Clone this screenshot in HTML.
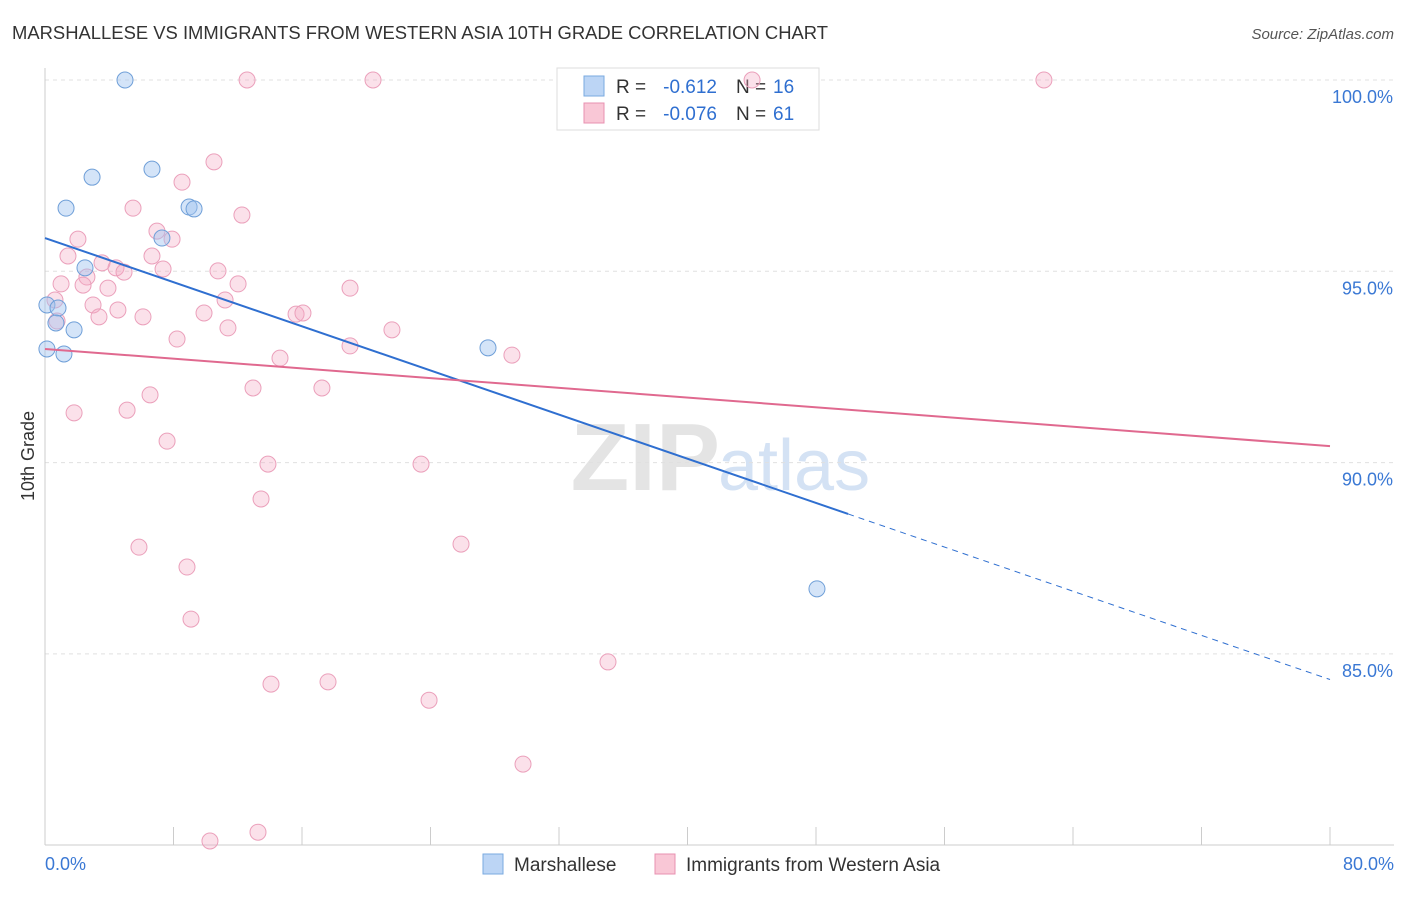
<!DOCTYPE html>
<html><head><meta charset="utf-8"><style>
body{margin:0;background:#fff;font-family:"Liberation Sans",sans-serif;}
svg text{font-family:"Liberation Sans",sans-serif;}
</style></head><body>
<svg id="chart" width="1406" height="892">
<text x="12" y="39" font-size="18" fill="#333" textLength="816" lengthAdjust="spacingAndGlyphs">MARSHALLESE VS IMMIGRANTS FROM WESTERN ASIA 10TH GRADE CORRELATION CHART</text>
<text x="1394" y="39" font-size="15" fill="#555" text-anchor="end" font-style="italic">Source: ZipAtlas.com</text>
<text x="720" y="490" font-size="96" fill="#e4e4e4" text-anchor="end" font-family="Liberation Serif" font-weight="bold">ZIP</text>
<text x="718" y="490" font-size="72" fill="#d4e2f4">atlas</text>
<g id="grid"></g>
<g id="axes"></g>
<g>
<rect x="557" y="68" width="262" height="62" fill="#fff" stroke="#ddd"/>
<rect x="584" y="76" width="20" height="20" fill="#bcd5f5" stroke="#7aaae0"/>
<rect x="584" y="103" width="20" height="20" fill="#f9c7d6" stroke="#e890b0"/>
<text x="616" y="93" font-size="19" fill="#333">R =</text>
<text x="717" y="93" font-size="19" fill="#2f6fd0" text-anchor="end">-0.612</text>
<text x="736" y="93" font-size="19" fill="#333">N =</text>
<text x="773" y="93" font-size="19" fill="#2f6fd0">16</text>
<text x="616" y="120" font-size="19" fill="#333">R =</text>
<text x="717" y="120" font-size="19" fill="#2f6fd0" text-anchor="end">-0.076</text>
<text x="736" y="120" font-size="19" fill="#333">N =</text>
<text x="773" y="120" font-size="19" fill="#2f6fd0">61</text>
</g>
<g id="marks"></g>
<text x="34" y="456" font-size="18" fill="#333" text-anchor="middle" transform="rotate(-90 34 456)">10th Grade</text>
<g>
<rect x="483" y="854" width="20" height="20" fill="#bcd5f5" stroke="#7aaae0"/>
<text x="514" y="871" font-size="19" fill="#333">Marshallese</text>
<rect x="655" y="854" width="20" height="20" fill="#f9c7d6" stroke="#e890b0"/>
<text x="686" y="871" font-size="19" fill="#333">Immigrants from Western Asia</text>
</g>
</svg>
<script>
const blueX=[4.98,2.93,1.31,6.66,8.97,9.28,7.28,2.49,0.12,0.81,0.68,1.81,0.12,1.18,27.58,48.06];
const blueY=[100,97.46,96.65,97.67,96.68,96.63,95.87,95.09,94.12,94.04,93.65,93.47,92.97,92.84,93.00,86.70];
const pinkX=[12.58,20.42,44.02,62.19,10.52,8.53,5.48,12.26,6.97,7.91,2.05,1.43,6.66,3.55,4.42,4.92,7.35,10.77,2.61,1.00,2.37,3.92,12.02,18.99,0.62,11.21,2.99,4.54,9.90,6.10,3.36,15.63,16.06,0.75,11.39,21.60,8.22,18.99,14.63,29.07,12.95,17.24,6.54,1.81,5.11,7.60,13.88,23.41,13.45,5.85,25.90,8.84,9.09,35.05,14.07,17.62,23.91,29.76,13.26,10.27];
const pinkY=[100,100,100,100,97.86,97.33,96.65,96.47,96.05,95.84,95.84,95.40,95.40,95.22,95.09,94.98,95.06,95.01,94.85,94.67,94.64,94.56,94.67,94.56,94.25,94.25,94.12,93.99,93.91,93.81,93.81,93.88,93.91,93.70,93.52,93.47,93.23,93.05,92.73,92.81,91.95,91.95,91.77,91.30,91.37,90.56,89.96,89.96,89.05,87.79,87.87,87.27,85.91,84.79,84.21,84.27,83.79,82.12,80.34,80.11];
const yTicks=[100,95,90,85];
const yTickLabels=["100.0%","95.0%","90.0%","85.0%"];
const xTickLabels=["0.0%","80.0%"];
const blueTrend=[95.87,84.33];
const blueSolidEnd=50;
const pinkTrend=[92.97,90.43];
const NS="http://www.w3.org/2000/svg";
const sx=v=>45+v*1285/80;
const sy=v=>80+(100-v)*191.3/5;
function mk(tag,attrs,parent){const e=document.createElementNS(NS,tag);for(const k in attrs)e.setAttribute(k,attrs[k]);parent.appendChild(e);return e;}
const grid=document.getElementById('grid'),axes=document.getElementById('axes'),marks=document.getElementById('marks');
yTicks.forEach((t,i)=>{
 const l=mk('line',{x1:45,x2:1394,y1:sy(t),y2:sy(t),stroke:'#e0e0e0','stroke-dasharray':'4 4'},grid);
 
 
 const tx=mk('text',{x:1393,y:sy(t)+23,'font-size':18,fill:'#3a78d4','text-anchor':'end'},axes);
 tx.textContent=yTickLabels[i];
 
 
});
const ax=mk('line',{x1:45,x2:45,y1:68,y2:845,stroke:'#ccc'},axes);


const bx=mk('line',{x1:45,x2:1394,y1:845,y2:845,stroke:'#ccc'},axes);


for(let i=0;i<=10;i++){
 const t=mk('line',{x1:sx(i*8),x2:sx(i*8),y1:827,y2:845,stroke:'#ccc'},axes);
 
 
}
[[0,'start',45],[80,'end',1394]].forEach((d,i)=>{
 const tx=mk('text',{x:d[2],y:870,'font-size':18,fill:'#3a78d4','text-anchor':d[1]},axes);
 tx.textContent=xTickLabels[i];
 
 
});
pinkX.forEach((x,i)=>{
 const c=mk('circle',{cx:sx(x),cy:sy(pinkY[i]),r:8,fill:'rgba(244,170,195,0.35)',stroke:'#eba0bb','stroke-width':1},marks);
 
 
});
blueX.forEach((x,i)=>{
 const c=mk('circle',{cx:sx(x),cy:sy(blueY[i]),r:8,fill:'rgba(160,195,240,0.45)',stroke:'#6f9fd8','stroke-width':1},marks);
 
 
});
const bAt=x=>blueTrend[0]+(blueTrend[1]-blueTrend[0])*x/80;
const bl=mk('line',{x1:sx(0),y1:sy(blueTrend[0]),x2:sx(blueSolidEnd),y2:sy(bAt(blueSolidEnd)),stroke:'#2f6fd0','stroke-width':2},marks);


const bd=mk('line',{x1:sx(blueSolidEnd),y1:sy(bAt(blueSolidEnd)),x2:sx(80),y2:sy(blueTrend[1]),stroke:'#2f6fd0','stroke-width':1,'stroke-dasharray':'6 5'},marks);


const pl=mk('line',{x1:sx(0),y1:sy(pinkTrend[0]),x2:sx(80),y2:sy(pinkTrend[1]),stroke:'#e0698f','stroke-width':2},marks);


</script>
</body></html>
